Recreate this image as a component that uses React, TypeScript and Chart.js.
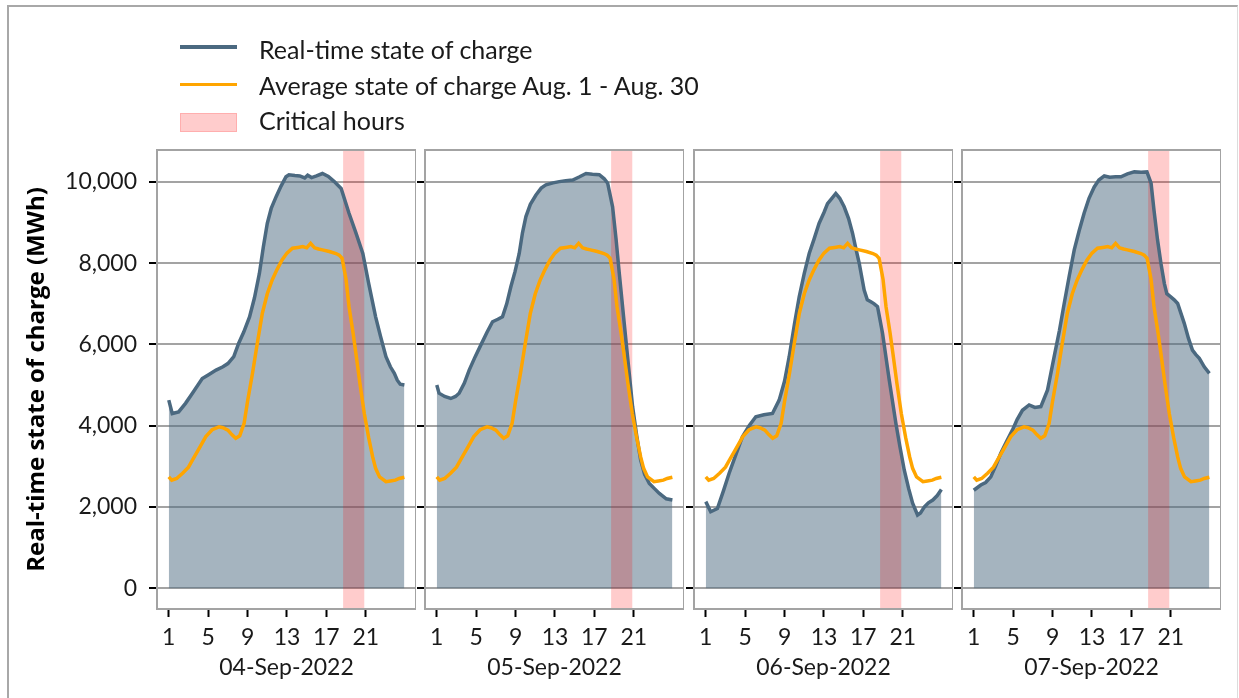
import React, { useEffect, useRef } from 'react';
import { Chart, registerables } from 'chart.js';

Chart.register(...registerables);

// ---------------- data ----------------
const DAY_LABELS = ['04-Sep-2022', '05-Sep-2022', '06-Sep-2022', '07-Sep-2022'];
const HOUR_TICKS = [1, 5, 9, 13, 17, 21];
const Y_TICKS = [0, 2000, 4000, 6000, 8000, 10000];
const CRITICAL_START = 18.7;
const CRITICAL_END = 20.85;

// average state of charge Aug. 1 - Aug. 30 (same in every panel)
const AVG_HOURS = [1, 1.3, 1.8, 2.4, 3.0, 3.4, 4.1, 4.76, 5.4, 6.1, 6.5, 7.0, 7.4, 7.8, 8.2, 8.65, 9.0, 9.5, 10.0, 10.5, 11.0, 11.5, 12.0, 12.5, 13.0, 13.56, 14.1, 14.6, 15.0, 15.4, 15.8, 16.2, 16.6, 17.3, 17.97, 18.3, 18.6, 19.0, 19.3, 19.7, 20.0, 20.4, 20.85, 21.3, 21.7, 22.0, 22.4, 23.05, 23.5, 24.0, 24.4, 24.92];
const AVG_SOC = [2740, 2660, 2700, 2830, 2980, 3150, 3450, 3730, 3900, 3970, 3950, 3890, 3780, 3690, 3750, 4060, 4600, 5290, 6050, 6770, 7250, 7590, 7850, 8080, 8250, 8370, 8390, 8410, 8380, 8490, 8380, 8350, 8330, 8290, 8240, 8200, 8120, 7600, 6930, 6300, 5780, 5050, 4300, 3700, 3230, 2950, 2740, 2620, 2640, 2660, 2700, 2730];

// real-time state of charge, 04-Sep-2022
const SEP04_HOURS = [1, 1.35, 2.0, 2.7, 3.4, 4.4, 5.0, 5.8, 6.5, 7.0, 7.6, 8.1, 8.6, 9.2, 9.7, 10.2, 10.6, 11.0, 11.4, 11.9, 12.4, 12.9, 13.2, 13.8, 14.3, 14.8, 15.1, 15.5, 16.0, 16.6, 17.2, 17.8, 18.5, 19.3, 20.0, 20.7, 21.3, 22.0, 22.5, 23.05, 23.5, 23.9, 24.2, 24.5, 24.92];
const SEP04_SOC = [4630, 4300, 4340, 4550, 4800, 5160, 5250, 5370, 5450, 5530, 5700, 6030, 6300, 6680, 7150, 7750, 8400, 8980, 9350, 9640, 9900, 10130, 10180, 10160, 10150, 10100, 10170, 10110, 10150, 10210, 10140, 10010, 9840, 9230, 8750, 8240, 7500, 6680, 6200, 5700, 5450, 5290, 5120, 5020, 5000];

// real-time state of charge, 05-Sep-2022
const SEP05_HOURS = [1, 1.23, 1.8, 2.42, 2.9, 3.27, 3.8, 4.29, 4.9, 5.48, 6.1, 6.66, 7.2, 7.67, 8.1, 8.52, 8.95, 9.37, 9.7, 10.05, 10.5, 11.07, 11.6, 12.08, 12.8, 13.44, 14.1, 14.8, 15.5, 16.15, 16.8, 17.5, 18.0, 18.35, 18.85, 19.2, 19.53, 20.2, 20.88, 21.3, 21.7, 22.1, 22.58, 23.1, 23.6, 24.3, 24.92];
const SEP05_SOC = [5000, 4800, 4720, 4670, 4720, 4800, 5050, 5370, 5700, 5990, 6300, 6560, 6620, 6680, 7000, 7420, 7800, 8240, 8750, 9150, 9450, 9680, 9850, 9930, 9980, 10010, 10030, 10050, 10130, 10210, 10190, 10180, 10080, 9970, 9390, 8600, 7750, 6110, 4470, 3750, 3150, 2800, 2580, 2450, 2330, 2200, 2170];

// real-time state of charge, 06-Sep-2022
const SEP06_HOURS = [1, 1.5, 2.18, 2.8, 3.37, 4.0, 4.72, 5.4, 6.08, 6.9, 7.77, 8.45, 9.0, 9.47, 10.0, 10.48, 11.0, 11.5, 12.0, 12.5, 13.0, 13.36, 13.8, 14.2, 14.6, 15.05, 15.5, 15.9, 16.25, 16.58, 17.08, 17.4, 17.76, 18.1, 18.44, 18.95, 19.63, 20.3, 20.7, 21.15, 21.6, 22.0, 22.5, 22.8, 23.2, 23.6, 24.05, 24.5, 24.92];
const SEP06_SOC = [2130, 1880, 1960, 2400, 2830, 3250, 3730, 4000, 4220, 4270, 4300, 4630, 5100, 5700, 6500, 7170, 7750, 8240, 8600, 8980, 9250, 9470, 9600, 9720, 9600, 9390, 9100, 8740, 8350, 8000, 7340, 7100, 7050, 7000, 6930, 6270, 5120, 4060, 3500, 2910, 2450, 2090, 1800, 1850, 2000, 2100, 2170, 2280, 2430];

// real-time state of charge, 07-Sep-2022
const SEP07_HOURS = [1, 1.71, 2.2, 2.73, 3.2, 3.74, 4.3, 4.92, 5.4, 5.94, 6.62, 7.2, 7.81, 8.49, 9.16, 9.7, 10.18, 10.7, 11.2, 11.7, 12.2, 12.7, 13.23, 13.7, 14.25, 14.8, 15.4, 15.94, 16.6, 17.3, 18.0, 18.58, 19.0, 19.3, 19.66, 20.0, 20.35, 20.6, 21.0, 21.35, 21.7, 22.37, 22.8, 23.2, 23.55, 23.9, 24.4, 24.92];
const SEP07_SOC = [2410, 2540, 2600, 2740, 3000, 3320, 3600, 3890, 4150, 4380, 4510, 4450, 4470, 4880, 5700, 6350, 7010, 7700, 8330, 8800, 9230, 9600, 9880, 10050, 10150, 10120, 10130, 10130, 10200, 10250, 10240, 10250, 9970, 9300, 8570, 8000, 7500, 7250, 7170, 7100, 7010, 6520, 6150, 5860, 5750, 5660, 5450, 5290];

const REAL_HOURS = [SEP04_HOURS, SEP05_HOURS, SEP06_HOURS, SEP07_HOURS];
const REAL_SOC = [SEP04_SOC, SEP05_SOC, SEP06_SOC, SEP07_SOC];

// ---------------- styling ----------------
const FONT = 'Lato, "Open Sans", sans-serif';
const TITLE_FONT = '"Open Sans", Lato, sans-serif';
const REAL_COLOR = '#4b6980';
const FILL_COLOR = 'rgba(75,105,128,0.5)';
const AVG_COLOR = '#ffa500';
const CRIT_COLOR = 'rgba(255,0,0,0.2)';
const GRID_COLOR = '#a3a3a3';

const X_MIN = -0.196;
const X_MAX = 26.1;
const Y_MIN = -514;
const Y_MAX = 10789;

const PANEL_LEFTS = [157, 425, 694, 962];
const PANEL_WIDTH = 259;
const PANEL_TOP = 150;
const PANEL_BOTTOM = 609;
const PAGE_H = 698;

const toPoints = (xs: number[], ys: number[]) => xs.map((x, i) => ({ x, y: ys[i] }));

const panelPlugin = {
  id: 'panelDecor',
  afterDatasetDraw(chart: any, args: any) {
    if (args.index !== 0) return;
    const { ctx, chartArea, scales } = chart;
    const x0 = scales.x.getPixelForValue(CRITICAL_START);
    const x1 = scales.x.getPixelForValue(CRITICAL_END);
    ctx.save();
    ctx.fillStyle = CRIT_COLOR;
    ctx.fillRect(x0, chartArea.top, x1 - x0, chartArea.bottom - chartArea.top);
    ctx.restore();
  },
  afterDraw(chart: any) {
    const { ctx, chartArea } = chart;
    ctx.save();
    ctx.strokeStyle = GRID_COLOR;
    ctx.lineWidth = 2;
    ctx.strokeRect(chartArea.left, chartArea.top, chartArea.right - chartArea.left, chartArea.bottom - chartArea.top);
    ctx.restore();
  },
};

function Panel({ index }: { index: number }) {
  const ref = useRef<HTMLCanvasElement | null>(null);
  const first = index === 0;
  const yAxisWidth = first ? PANEL_LEFTS[0] : 20;
  const canvasLeft = PANEL_LEFTS[index] - yAxisWidth;
  const canvasWidth = yAxisWidth + PANEL_WIDTH;

  useEffect(() => {
    if (!ref.current) return;
    const real = toPoints(REAL_HOURS[index], REAL_SOC[index]);
    const avg = toPoints(AVG_HOURS, AVG_SOC);
    const chart = new Chart(ref.current, {
      type: 'line',
      data: {
        datasets: [
          {
            label: 'fill',
            data: real,
            fill: 'origin',
            backgroundColor: FILL_COLOR,
            borderWidth: 0,
            borderColor: 'rgba(0,0,0,0)',
            pointRadius: 0,
            order: 3,
          },
          {
            label: 'Real-time state of charge',
            data: real,
            fill: false,
            borderColor: REAL_COLOR,
            borderWidth: 3.5,
            pointRadius: 0,
            tension: 0,
            order: 2,
          },
          {
            label: 'Average state of charge Aug. 1 - Aug. 30',
            data: avg,
            fill: false,
            borderColor: AVG_COLOR,
            borderWidth: 3.5,
            pointRadius: 0,
            tension: 0,
            order: 1,
          },
        ],
      },
      options: {
        animation: false,
        responsive: false,
        devicePixelRatio: 1,
        events: [],
        layout: { padding: { top: PANEL_TOP, left: 0, right: 0, bottom: 0 } },
        plugins: { legend: { display: false }, tooltip: { enabled: false } },
        scales: {
          x: {
            type: 'linear',
            min: X_MIN,
            max: X_MAX,
            afterBuildTicks: (s: any) => {
              s.ticks = HOUR_TICKS.map((v) => ({ value: v }));
            },
            afterFit: (s: any) => {
              s.height = PAGE_H - PANEL_BOTTOM;
            },
            grid: {
              display: true,
              drawOnChartArea: false,
              drawTicks: true,
              tickLength: 8,
              tickWidth: 2,
              tickColor: '#000',
            },
            border: { display: false },
            ticks: {
              color: '#1a1a1a',
              font: { family: FONT, size: 23 },
              padding: 7,
              maxRotation: 0,
              autoSkip: false,
              callback: (v: any) => String(v),
            },
            title: {
              display: true,
              text: DAY_LABELS[index],
              color: '#1a1a1a',
              font: { family: FONT, size: 23 },
              padding: { top: 0, bottom: 17 },
            },
          },
          y: {
            type: 'linear',
            min: Y_MIN,
            max: Y_MAX,
            afterBuildTicks: (s: any) => {
              s.ticks = Y_TICKS.map((v) => ({ value: v }));
            },
            afterFit: (s: any) => {
              s.width = yAxisWidth;
            },
            grid: {
              display: true,
              color: GRID_COLOR,
              lineWidth: 2,
              drawTicks: true,
              tickLength: 8,
              tickWidth: 2,
              tickColor: '#000',
            },
            border: { display: false },
            ticks: {
              display: first,
              color: '#1a1a1a',
              font: { family: FONT, size: 23 },
              padding: 12,
              callback: (v: any) => Number(v).toLocaleString('en-US'),
            },
            title: {
              display: first,
              text: 'Real-time state of charge (MWh)',
              color: '#000',
              font: { family: TITLE_FONT, size: 24, weight: 'bold' },
              padding: { top: 23, bottom: 0 },
            },
          },
        },
      },
      plugins: [panelPlugin],
    } as any);
    return () => chart.destroy();
  }, [index]);

  return (
    <canvas
      ref={ref}
      width={canvasWidth}
      height={PAGE_H}
      style={{ position: 'absolute', left: canvasLeft, top: 0, width: canvasWidth, height: PAGE_H }}
    />
  );
}

const LEGEND_ITEMS = [
  { label: 'Real-time state of charge', kind: 'line', color: REAL_COLOR, handleY: 47, textY: 50 },
  { label: 'Average state of charge Aug. 1 - Aug. 30', kind: 'line', color: AVG_COLOR, handleY: 84.5, textY: 86 },
  { label: 'Critical hours', kind: 'patch', color: CRIT_COLOR, handleY: 122.5, textY: 121 },
];

export default function App() {
  return (
    <div
      style={{
        position: 'absolute',
        left: 0,
        top: 0,
        width: 1239,
        height: 698,
        overflow: 'hidden',
        background: '#fff',
        fontFamily: FONT,
      }}
    >
      <div
        style={{
          position: 'absolute',
          left: 7,
          top: 5,
          width: 1228,
          height: 760,
          borderLeft: '2px solid #a8a8a8',
          borderTop: '2px solid #a8a8a8',
          borderRight: '1px solid #dcdcdc',
        }}
      />
      {[0, 1, 2, 3].map((i) => (
        <Panel key={i} index={i} />
      ))}
      {LEGEND_ITEMS.map((it) => (
        <React.Fragment key={it.label}>
          {it.kind === 'line' ? (
            <div
              style={{
                position: 'absolute',
                left: 180,
                top: it.handleY - 1.75,
                width: 57,
                height: 3.5,
                background: it.color,
              }}
            />
          ) : (
            <div
              style={{
                position: 'absolute',
                left: 180,
                top: it.handleY - 9.5,
                width: 57,
                height: 19,
                boxSizing: 'border-box',
                background: it.color,
                border: '1px solid rgba(255,0,0,0.15)',
              }}
            />
          )}
          <div
            style={{
              position: 'absolute',
              left: 259,
              top: it.textY - 13.5,
              fontSize: 25,
              lineHeight: '25px',
              color: '#1a1a1a',
              whiteSpace: 'nowrap',
            }}
          >
            {it.label}
          </div>
        </React.Fragment>
      ))}
    </div>
  );
}
